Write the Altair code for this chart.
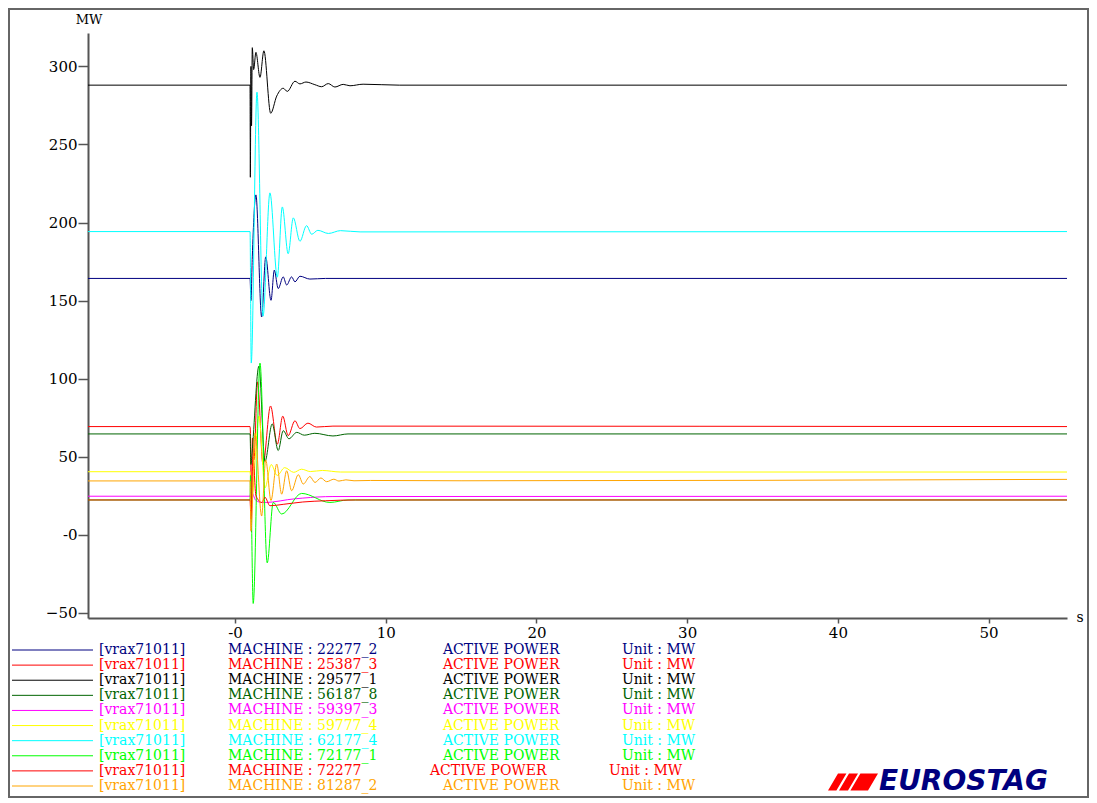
import altair as alt
import pandas as pd

# ---------------- data ----------------
SERIES = ["22277_2", "25387_3", "29577_1", "56187_8", "59397_3",
          "59777_4", "62177_4", "72177_1", "72277", "81287_2"]
COLORS = ["#000080", "#FF0000", "#000000", "#006400", "#FF00FF",
          "#FFFF00", "#00FFFF", "#00FF00", "#FF0000", "#FFA500"]

T_22277_2 = [-9.75, 1.0, 1.06, 1.15, 1.39, 1.77, 2.04, 2.39, 2.61, 2.87, 3.2, 3.43, 3.76, 3.98, 4.31, 4.97, 6.0, 55.2]
V_22277_2 = [164.2, 164.2, 150, 178, 217.7, 139.5, 178, 150.2, 169.5, 157.7, 165.2, 160, 165.2, 162, 165.6, 163.8, 164.2, 164.2]

T_25387_3 = [-9.75, 1.0, 1.04, 1.09, 1.16, 1.26, 1.5, 1.86, 2.36, 2.81, 3.17, 3.53, 3.98, 4.31, 4.84, 5.4, 6.5, 55.2]
V_25387_3 = [69.3, 69.3, 58, 2, 62, 48, 98, 45, 82.5, 58, 76, 63.5, 73, 68, 71.5, 69, 69.6, 69.3]

T_29577_1 = [-9.75, 1.0, 1.02, 1.06, 1.10, 1.15, 1.24, 1.39, 1.66, 1.92, 2.37, 2.77, 3.2, 3.47, 3.98, 4.31, 4.71, 5.3, 5.75, 6.19, 6.63, 7.18, 7.63, 8.5, 10.9, 55.2]
V_29577_1 = [288, 288, 229, 300, 262, 312, 298, 309, 293, 310, 270, 281, 286, 284, 290.5, 288.8, 290, 288.3, 287, 289, 286.8, 288.5, 287.6, 288.6, 288, 288]

T_56187_8 = [-9.75, 1.0, 1.06, 1.13, 1.59, 1.99, 2.47, 2.87, 3.2, 3.58, 4.1, 4.6, 5.3, 6.5, 7.5, 55.2]
V_56187_8 = [64.6, 64.6, 45, 52, 108, 47, 71, 54, 66.7, 61.5, 65.6, 63.8, 65, 63.3, 64.6, 64.6]

T_59397_3 = [-9.75, 1.0, 1.06, 1.39, 1.79, 2.5, 3.5, 4.5, 6.5, 55.2]
V_59397_3 = [24.7, 24.7, 28, 22, 20.7, 21, 22.5, 23.5, 24.5, 24.7]

T_59777_4 = [-9.75, 1.0, 1.10, 1.59, 1.99, 2.4, 2.8, 3.3, 3.9, 4.42, 5.0, 5.8, 7.0, 55.2]
V_59777_4 = [40.4, 40.4, 22, 76, 30, 45, 38, 43, 40, 42, 40.5, 41.2, 40.2, 40.2]

T_62177_4 = [-9.75, 1.0, 1.08, 1.46, 1.86, 2.32, 2.81, 3.14, 3.53, 3.87, 4.31, 4.75, 5.09, 5.5, 6.2, 7.0, 8.3, 55.2]
V_62177_4 = [194.2, 194.2, 110, 283.5, 140, 219, 165, 210, 180, 203, 188, 198, 192.5, 195, 193, 194.8, 194, 194.2]

T_72177_1 = [-9.75, 1.0, 1.03, 1.21, 1.66, 2.14, 2.54, 3.10, 4.42, 6.3, 7.5, 55.2]
V_72177_1 = [22.3, 22.3, 38, -44, 110, -18, 20.7, 13.3, 26.5, 20.7, 22.3, 22.3]

T_72277 = [-9.75, 1.0, 1.06, 1.2, 1.39, 1.79, 1.99, 2.32, 3.2, 4.5, 6.0, 8.0, 55.2]
V_72277 = [22.3, 22.3, 10, 50, 25, 20.7, 24, 18.6, 19.5, 21, 21.8, 22.3, 22.3]

T_81287_2 = [-9.75, 1.0, 1.06, 1.33, 1.77, 2.04, 2.39, 2.77, 3.1, 3.43, 3.76, 4.2, 4.53, 4.97, 5.31, 5.7, 6.08, 6.56, 6.9, 7.36, 7.9, 9.0, 15.0, 55.2]
V_81287_2 = [34.5, 34.5, 2.6, 65, 12, 48, 22, 45.3, 26, 41, 28.2, 38.5, 32.5, 37.3, 33.5, 36.4, 34, 35.6, 34.4, 35.2, 34.6, 34.8, 34.6, 35.5]

X_TICKS = [0, 10, 20, 30, 40, 50]
Y_TICKS = [-50, 0, 50, 100, 150, 200, 250, 300]

LEG_BRACKET = "[vrax71011]"
LEG_MACHINE = ["MACHINE : " + s for s in SERIES]
LEG_ACTIVE = "ACTIVE POWER"
LEG_UNIT = "Unit : MW"

# ---------------- tables ----------------
series_data = [
    (T_22277_2, V_22277_2), (T_25387_3, V_25387_3), (T_29577_1, V_29577_1),
    (T_56187_8, V_56187_8), (T_59397_3, V_59397_3), (T_59777_4, V_59777_4),
    (T_62177_4, V_62177_4), (T_72177_1, V_72177_1), (T_72277, V_72277),
    (T_81287_2, V_81287_2),
]
rows = []
for name, (ts, vs) in zip(SERIES, series_data):
    for t, v in zip(ts, vs):
        rows.append({"series": name, "t": t, "v": v})
df = pd.DataFrame(rows)

leg = pd.DataFrame({
    "row": list(range(len(SERIES))),
    "series": SERIES,
    "bracket": [LEG_BRACKET] * len(SERIES),
    "machine": LEG_MACHINE,
    "active": [LEG_ACTIVE] * len(SERIES),
    "unit": [LEG_UNIT] * len(SERIES),
})

SERIF = "DejaVu Serif"
color_enc = alt.Color("series:N", scale=alt.Scale(domain=SERIES, range=COLORS), legend=None)

lines = alt.Chart(df).mark_line(strokeWidth=1, interpolate="monotone", clip=True).encode(
    x=alt.X("t:Q",
            scale=alt.Scale(domain=[-9.75, 55.2], nice=False, zero=False),
            axis=alt.Axis(values=X_TICKS, title=None, grid=False,
                          labelExpr="datum.value == 0 ? '-0' : datum.label",
                          tickSize=5, labelPadding=2)),
    y=alt.Y("v:Q",
            scale=alt.Scale(domain=[-53.3, 321.4], nice=False, zero=False),
            axis=alt.Axis(values=Y_TICKS, title=None, grid=False,
                          labelExpr="datum.value == 0 ? '-0' : datum.label",
                          tickSize=10, labelPadding=1)),
    color=color_enc,
    detail="series:N",
)

yrow = alt.Y("row:Q", scale=alt.Scale(domain=[0, 9], range=[617, 753]), axis=None)

leg_lines = alt.Chart(leg).mark_rule(strokeWidth=1).encode(
    x=alt.value(-76), x2=alt.value(5), y=yrow, color=color_enc)

def leg_text(field, xpix, flt=None):
    c = alt.Chart(leg)
    if flt:
        c = c.transform_filter(flt)
    return c.mark_text(align="left", baseline="middle", font=SERIF, fontSize=14).encode(
        x=alt.value(xpix), y=yrow, text=f"{field}:N", color=color_enc)

leg_b = leg_text("bracket", 11)
leg_m = leg_text("machine", 140)
leg_a1 = leg_text("active", 355, "datum.row != 8")
leg_a2 = leg_text("active", 342, "datum.row == 8")
leg_u1 = leg_text("unit", 534, "datum.row != 8")
leg_u2 = leg_text("unit", 521, "datum.row == 8")

one = pd.DataFrame({"k": [0]})
mw = alt.Chart(one).mark_text(text="MW", font=SERIF, fontSize=13, color="#000",
                              align="center", baseline="middle").encode(
    x=alt.value(1), y=alt.value(-13))
sec = alt.Chart(one).mark_text(text="s", font=SERIF, fontSize=14, color="#000",
                               align="center", baseline="middle").encode(
    x=alt.value(992), y=alt.value(585))

frame = alt.Chart(one).mark_rect(fillOpacity=0, stroke="#666666", strokeWidth=2).encode(
    x=alt.value(-79), x2=alt.value(1000), y=alt.value(-24), y2=alt.value(764))

STRIPES = ("M -0.6 -0.34 L -0.264 -0.34 L -0.664 0.34 L -1 0.34 Z "
           "M -0.16 -0.34 L 0.2 -0.34 L -0.2 0.34 L -0.56 0.34 Z "
           "M 0.296 -0.34 L 1 -0.34 L 0.6 0.34 L -0.104 0.34 Z")
logo_mark = alt.Chart(one).mark_point(shape=STRIPES, filled=True, fill="#FF0000",
                                      strokeWidth=0, size=2500, opacity=1).encode(
    x=alt.value(765), y=alt.value(749))
logo_text = alt.Chart(one).mark_text(text="EUROSTAG", font="DejaVu Sans", fontWeight="bold",
                                     fontStyle="italic", fontSize=28, color="#00007F",
                                     align="left", baseline="alphabetic").encode(
    x=alt.value(791), y=alt.value(757))

chart = alt.layer(
    frame, lines, leg_lines, leg_b, leg_m, leg_a1, leg_a2, leg_u1, leg_u2,
    mw, sec, logo_mark, logo_text
).resolve_scale(y="independent").properties(
    width=979, height=585,
    autosize=alt.AutoSizeParams(type="none"),
    padding={"left": 80, "top": 25, "right": 22, "bottom": 180},
    background="#FFFFFF",
).configure_view(stroke=None).configure_axis(
    domainColor="#555555", domainWidth=2, tickColor="#555555", tickWidth=1.5,
    labelFont=SERIF, labelFontSize=15, labelColor="#000000",
)

chart.save("out.html", embed_options={"renderer": "svg", "actions": False})
